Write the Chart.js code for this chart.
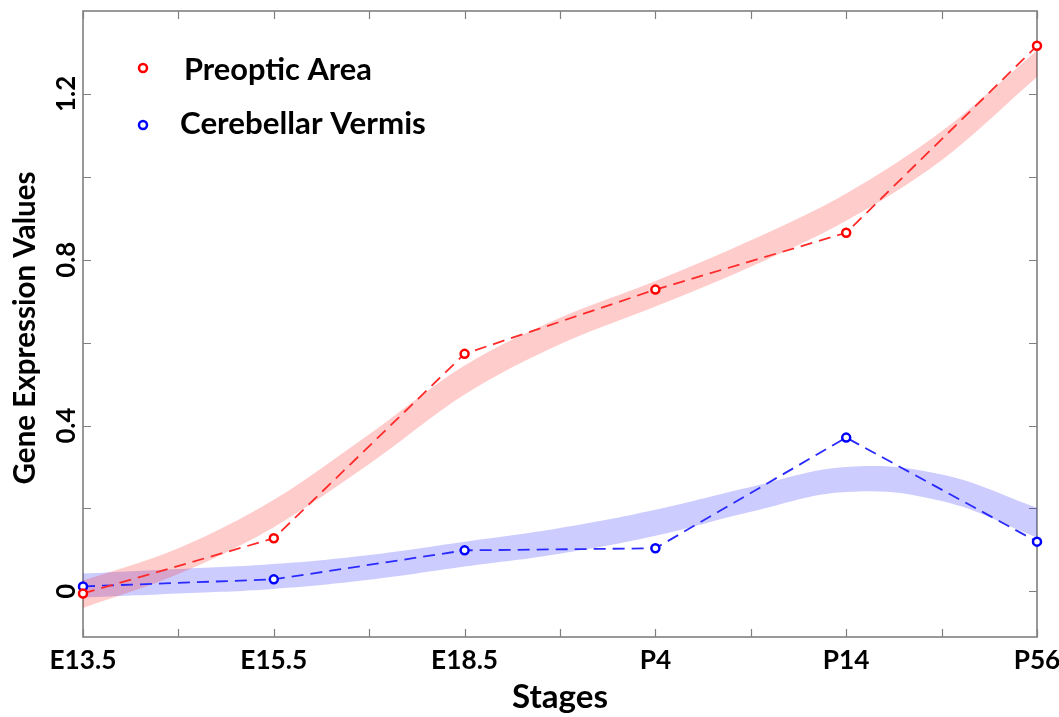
<!DOCTYPE html>
<html>
<head>
<meta charset="utf-8">
<title>Gene Expression Values</title>
<script src="https://cdn.jsdelivr.net/npm/chart.js@4.4.0/dist/chart.umd.min.js"></script>
<style>
  html, body { margin: 0; padding: 0; background: #fff; }
  #wrap { width: 1059px; height: 717px; }
</style>
</head>
<body>
<div id="wrap"><canvas id="chart" width="1059" height="717"></canvas></div>
<script>
// --- Data ---
const stages = ['E13.5', 'E15.5', 'E18.5', 'P4', 'P14', 'P56'];
const stageX = [0, 1, 2, 3, 4, 5];
const preoptic = [-0.005, 0.128, 0.573, 0.728, 0.865, 1.316];
const vermis = [0.012, 0.029, 0.099, 0.104, 0.371, 0.120];

// smoothed bands, read every half stage
const bandX = [0, 0.5, 1, 1.5, 2, 2.5, 3, 3.5, 4, 4.5, 5];
const preopticUpper = [0.026, 0.104, 0.221, 0.379, 0.545, 0.660, 0.749, 0.847, 0.960, 1.110, 1.305];
const preopticLower = [-0.040, 0.042, 0.155, 0.307, 0.475, 0.596, 0.687, 0.783, 0.894, 1.040, 1.241];
const vermisUpper = [0.043, 0.054, 0.066, 0.088, 0.120, 0.153, 0.197, 0.252, 0.300, 0.282, 0.202];
const vermisLower = [-0.015, -0.005, 0.006, 0.028, 0.060, 0.091, 0.134, 0.192, 0.240, 0.218, 0.130];

const xTicks = [0, 0.5, 1, 1.5, 2, 2.5, 3, 3.5, 4, 4.5, 5];
const yTicks = [0, 0.2, 0.4, 0.6, 0.8, 1.0, 1.2];
const yTickLabels = ['0', '', '0.4', '', '0.8', '', '1.2'];

const legendLabels = ['Preoptic Area', 'Cerebellar Vermis'];
const xTitle = 'Stages';
const yTitle = 'Gene Expression Values';

const FONT = 'Lato, "Open Sans", sans-serif';
const RED = '#ff0000';
const BLUE = '#0000ff';

// --- Helpers ---
const pts = (xs, ys) => xs.map((x, i) => ({ x: x, y: ys[i] }));

// font size so that text spans the given width
function fitSize(ctx, text, width) {
    ctx.font = 'bold 100px ' + FONT;
    return 100 * width / ctx.measureText(text).width;
}

function marker(ctx, x, y, color) {
    ctx.beginPath();
    ctx.arc(x, y, 4, 0, Math.PI * 2);
    ctx.fillStyle = '#fff';
    ctx.fill();
    ctx.lineWidth = 2.5;
    ctx.strokeStyle = color;
    ctx.stroke();
}

// --- Plugins ---
const framePlugin = {
    id: 'frame',
    beforeDatasetsDraw(chart) {
        const { ctx, chartArea: a, scales } = chart;
        ctx.save();
        ctx.strokeStyle = '#808080';
        ctx.lineWidth = 1.2;
        const tick = 8;
        ctx.beginPath();
        xTicks.forEach(v => {
            const px = Math.round(scales.x.getPixelForValue(v)) + 0.5;
            ctx.moveTo(px, a.bottom); ctx.lineTo(px, a.bottom - tick);
            ctx.moveTo(px, a.top); ctx.lineTo(px, a.top + tick);
        });
        yTicks.forEach(v => {
            const py = Math.round(scales.y.getPixelForValue(v)) + 0.5;
            ctx.moveTo(a.left, py); ctx.lineTo(a.left + tick, py);
            ctx.moveTo(a.right, py); ctx.lineTo(a.right - tick, py);
        });
        ctx.stroke();
        ctx.lineWidth = 1.6;
        ctx.strokeRect(a.left, a.top, a.right - a.left, a.bottom - a.top);
        ctx.restore();
    }
};

const textPlugin = {
    id: 'texts',
    afterDraw(chart) {
        const { ctx, chartArea: a, scales } = chart;
        ctx.save();
        ctx.fillStyle = '#000';

        // x tick labels
        const xs = fitSize(ctx, 'E13.5', 67);
        ctx.font = 'bold ' + xs + 'px ' + FONT;
        ctx.textAlign = 'center';
        ctx.textBaseline = 'middle';
        stages.forEach((s, i) => {
            ctx.fillText(s, scales.x.getPixelForValue(stageX[i]), a.bottom + 24);
        });

        // x title
        const ts = fitSize(ctx, xTitle, 96);
        ctx.font = 'bold ' + ts + 'px ' + FONT;
        ctx.fillText(xTitle, (a.left + a.right) / 2, 697);

        // y tick labels, rotated
        const ys = fitSize(ctx, '0.8', 36);
        ctx.font = 'bold ' + ys + 'px ' + FONT;
        yTicks.forEach((v, i) => {
            if (!yTickLabels[i]) return;
            ctx.save();
            ctx.translate(a.left - 16, scales.y.getPixelForValue(v));
            ctx.rotate(-Math.PI / 2);
            ctx.fillText(yTickLabels[i], 0, 0);
            ctx.restore();
        });

        // y title
        const yt = fitSize(ctx, yTitle, 313);
        ctx.font = 'bold ' + yt + 'px ' + FONT;
        ctx.save();
        ctx.translate(25, 328);
        ctx.rotate(-Math.PI / 2);
        ctx.fillText(yTitle, 0, 0);
        ctx.restore();

        // legend
        ctx.textAlign = 'left';
        ctx.textBaseline = 'alphabetic';
        const l1 = fitSize(ctx, legendLabels[0], 188);
        ctx.font = 'bold ' + l1 + 'px ' + FONT;
        ctx.fillText(legendLabels[0], 184, 80);
        const l2 = fitSize(ctx, legendLabels[1], 246);
        ctx.font = 'bold ' + l2 + 'px ' + FONT;
        ctx.fillText(legendLabels[1], 180, 134);
        marker(ctx, 143, 68, RED);
        marker(ctx, 143, 125, BLUE);
        ctx.restore();
    }
};

// --- Chart ---
const bandStyle = { pointRadius: 0, borderWidth: 0, order: 2 };
const redBand = Object.assign({ cubicInterpolationMode: 'monotone' }, bandStyle);
const blueBand = Object.assign({ tension: 0.4 }, bandStyle);
const lineStyle = {
    borderWidth: 1.8, borderDash: [12, 7], tension: 0, fill: false,
    pointRadius: 4, pointBorderWidth: 2.5, pointBackgroundColor: '#fff',
    clip: 8, order: 0
};

new Chart(document.getElementById('chart').getContext('2d'), {
    type: 'line',
    data: {
        datasets: [
            Object.assign({ data: pts(bandX, preopticUpper), fill: false, borderColor: 'transparent' }, redBand),
            Object.assign({ data: pts(bandX, preopticLower), fill: '-1', borderColor: 'transparent', backgroundColor: 'rgba(255,0,0,0.2)' }, redBand),
            Object.assign({ data: pts(bandX, vermisUpper), fill: false, borderColor: 'transparent' }, blueBand),
            Object.assign({ data: pts(bandX, vermisLower), fill: '-1', borderColor: 'transparent', backgroundColor: 'rgba(0,0,255,0.2)' }, blueBand),
            Object.assign({ label: legendLabels[0], data: pts(stageX, preoptic), borderColor: '#ff2a2a', pointBorderColor: RED }, lineStyle),
            Object.assign({ label: legendLabels[1], data: pts(stageX, vermis), borderColor: '#2a2aff', pointBorderColor: BLUE }, lineStyle)
        ]
    },
    options: {
        responsive: false,
        devicePixelRatio: 1,
        animation: false,
        layout: { padding: { left: 83, right: 22, top: 11, bottom: 80 } },
        plugins: { legend: { display: false }, tooltip: { enabled: false } },
        scales: {
            x: { type: 'linear', display: false, min: 0, max: 5 },
            y: { type: 'linear', display: false, min: -0.11, max: 1.4 }
        }
    },
    plugins: [framePlugin, textPlugin]
});
</script>
</body>
</html>
